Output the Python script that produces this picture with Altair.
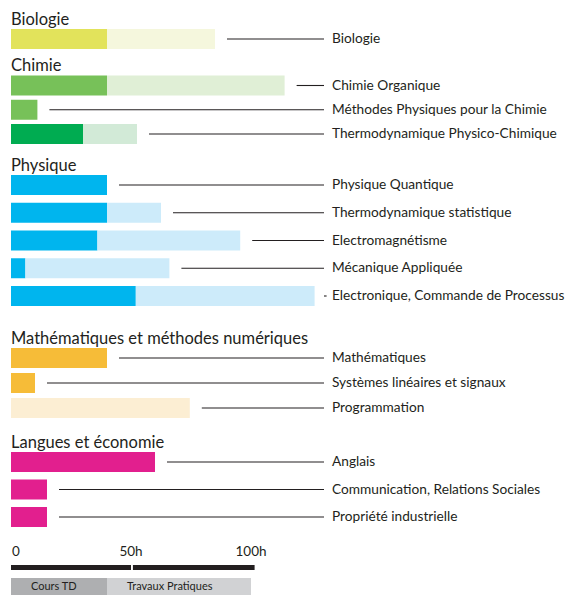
import altair as alt
import pandas as pd

# ---------------- data ----------------
groups = ["Biologie", "Chimie", "Physique",
          "Mathématiques et méthodes numériques", "Langues et économie"]
subjects = ["Biologie",
            "Chimie Organique", "Méthodes Physiques pour la Chimie", "Thermodynamique Physico-Chimique",
            "Physique Quantique", "Thermodynamique statistique", "Electromagnétisme",
            "Mécanique Appliquée", "Electronique, Commande de Processus",
            "Mathématiques", "Systèmes linéaires et signaux", "Programmation",
            "Anglais", "Communication, Relations Sociales", "Propriété industrielle"]
subject_group = [0, 1, 1, 1, 2, 2, 2, 2, 2, 3, 3, 3, 4, 4, 4]
cours_td = [40, 40, 11, 30, 40, 40, 36, 6, 52, 40, 10, 0, 60, 15, 15]
travaux_pratiques = [45, 74, 0, 22.5, 0, 22.5, 59.5, 60, 74.5, 0, 0, 74.5, 0, 0, 0]
tick_values = [0, 50, 100]
tick_labels = ["0", "50h", "100h"]
legend_labels = ["Cours TD", "Travaux Pratiques"]
legend_bounds = [0, 40, 100]
scale_segments = [(0, 50), (50.8, 101.5)]

# ---------------- style / layout ----------------
FONT = "Lato"
TXT = "#231F20"
dark_colors = ["#E2E35B", "#77C159", "#77C159", "#00AC51", "#00B5EE", "#00B5EE", "#00B5EE",
               "#00B5EE", "#00B5EE", "#F6BC38", "#F6BC38", "#F6BC38", "#E21F8E", "#E21F8E", "#E21F8E"]
light_colors = ["#F5F7DD", "#E0EFD6", "#E0EFD6", "#D2EAD7", "#CDEBFA", "#CDEBFA", "#CDEBFA",
                "#CDEBFA", "#CDEBFA", "#FCEED3", "#FCEED3", "#FCEED3", "#FCE1EE", "#FCE1EE", "#FCE1EE"]
legend_colors = ["#AEAFB1", "#D1D2D4"]
W, H = 558, 587
PX_PER_H = 2.4
X0 = 3
first_bar_y = 31           # centre of the first bar (chart px)
row_step = [26, 24.25, 27.75, 25, 27.5]
gap_before = [0, 25, 29.5, 40.5, 32.5]
TITLE_TO_BAR = 21.5
TITLE_BASELINE_TO_BAR = 14.5
TITLE_SIZE = 16.5
BAR_H = 20
LEADER_GAP = 5             # hours between bar end and leader line
LEADER_END = 316
LABEL_X = 324
TICK_Y = 544
SCALE_Y = (557, 562)
LEGEND_Y = (570, 587)

# ---------------- layout computation ----------------
bar_y = []
title_y = []
y = first_bar_y
prev_group = None
for i, g in enumerate(subject_group):
    if g != prev_group:
        if prev_group is not None:
            y = bar_y[-1] + gap_before[g] + TITLE_TO_BAR
        title_y.append(y - TITLE_BASELINE_TO_BAR)
        prev_group = g
    else:
        y = bar_y[-1] + row_step[g]
    bar_y.append(y)

seg_rows = []
for i, s in enumerate(subjects):
    if cours_td[i] > 0:
        seg_rows.append(dict(subject=s, start=0, end=cours_td[i], color=dark_colors[i],
                             y0=bar_y[i] - BAR_H / 2, y1=bar_y[i] + BAR_H / 2))
    if travaux_pratiques[i] > 0:
        seg_rows.append(dict(subject=s, start=cours_td[i], end=cours_td[i] + travaux_pratiques[i],
                             color=light_colors[i], y0=bar_y[i] - BAR_H / 2, y1=bar_y[i] + BAR_H / 2))
segs = pd.DataFrame(seg_rows)

labels = pd.DataFrame(dict(subject=subjects, y=bar_y,
                           line_start=[cours_td[i] + travaux_pratiques[i] + LEADER_GAP
                                       for i in range(len(subjects))]))
titles = pd.DataFrame(dict(group=groups, y=title_y))
ticks = pd.DataFrame(dict(v=tick_values, label=tick_labels))
scale_df = pd.DataFrame(dict(start=[a for a, b in scale_segments], end=[b for a, b in scale_segments]))
legend_df = pd.DataFrame(dict(label=legend_labels, start=legend_bounds[:-1], end=legend_bounds[1:],
                              color=legend_colors))

xs = alt.Scale(domain=[-X0 / PX_PER_H, (W - X0) / PX_PER_H], nice=False, zero=False)
ys = alt.Scale(domain=[0, H], range=[0, H], nice=False, zero=False)
X = lambda f: alt.X(f, type="quantitative", scale=xs, axis=None)
Y = lambda f: alt.Y(f, type="quantitative", scale=ys, axis=None)

bars = alt.Chart(segs).mark_rect().encode(
    x=X("start"), x2="end", y=Y("y0"), y2="y1", color=alt.Color("color:N", scale=None))

leaders = alt.Chart(labels).mark_rule(color=TXT, strokeWidth=1.1).encode(
    x=X("line_start"), x2=alt.value(LEADER_END), y=Y("y"))

label_text = alt.Chart(labels).mark_text(align="left", baseline="middle", font=FONT,
                                         fontSize=13.7, color=TXT).encode(
    x=alt.value(LABEL_X), y=Y("y"), text="subject:N")

title_text = alt.Chart(titles).mark_text(align="left", baseline="alphabetic", font=FONT,
                                         fontSize=TITLE_SIZE, color=TXT).encode(
    x=alt.value(X0), y=Y("y"), text="group:N")

tick0 = alt.Chart(ticks[ticks.v == 0]).mark_text(align="left", baseline="middle", font=FONT,
                                                fontSize=13.5, color=TXT, dx=1).encode(
    x=X("v"), y=alt.value(TICK_Y), text="label:N")
tickn = alt.Chart(ticks[ticks.v != 0]).mark_text(align="center", baseline="middle", font=FONT,
                                                fontSize=13.5, color=TXT).encode(
    x=X("v"), y=alt.value(TICK_Y), text="label:N")

scale_bars = alt.Chart(scale_df).mark_rect(color=TXT).encode(
    x=X("start"), x2="end", y=alt.value(SCALE_Y[0]), y2=alt.value(SCALE_Y[1]))

legend_rects = alt.Chart(legend_df).mark_rect().encode(
    x=X("start"), x2="end", y=alt.value(LEGEND_Y[0]), y2=alt.value(LEGEND_Y[1]),
    color=alt.Color("color:N", scale=None))
legend_text = alt.Chart(legend_df).mark_text(align="left", baseline="middle", font=FONT,
                                             fontSize=11, color=TXT, dx=20).encode(
    x=X("start"), y=alt.value((LEGEND_Y[0] + LEGEND_Y[1]) / 2), text="label:N")

chart = alt.layer(bars, leaders, label_text, title_text, tick0, tickn, scale_bars,
                  legend_rects, legend_text).properties(
    width=W, height=H, padding=0, autosize=alt.AutoSizeParams(type="none")
).configure_view(stroke=None)

chart.save("out.html", embed_options={"renderer": "svg", "actions": False})
